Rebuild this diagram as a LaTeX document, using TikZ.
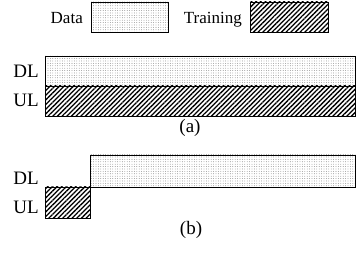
\documentclass[tikz,border=0pt]{standalone}
\usepackage{fontspec}
\setmainfont{Liberation Serif}
\usetikzlibrary{patterns.meta}
\definecolor{dotgray}{HTML}{6E6E6E}
\tikzset{
  databar/.style={draw=black,line width=0.9pt,
    pattern={Dots[radius=0.4pt,distance=2.4pt]},pattern color=dotgray},
  trainbar/.style={draw=black,line width=0.9pt,
    pattern={Lines[angle=45,distance=3.3pt,line width=1.3pt]}},
  legtxt/.style={font=\fontsize{17}{19}\selectfont,inner sep=0pt},
  rowtxt/.style={font=\fontsize{19}{21}\selectfont,inner sep=0pt,anchor=east},
  captxt/.style={font=\fontsize{19}{21}\selectfont,inner sep=0pt}
}

\begin{document}
\begin{tikzpicture}[x=1pt,y=-1pt]
    \useasboundingbox (0,0) rectangle (357,253);
    % legend
    \node[legtxt,anchor=base east] (datalbl) at (83,24) {Data};
    \draw[databar] (91,2) rectangle (168,32);
    \node[legtxt,anchor=base east] (trainlbl) at (242,24) {Training};
    \draw[trainbar] (250,2) rectangle (328,32);
    % (a) full duplex
    \draw[databar] (45,56) rectangle (355,86);
    \draw[trainbar] (45,86) rectangle (355,116);
    \node[rowtxt] (dla) at (39,71) {DL};
    \node[rowtxt] (ula) at (39,100) {UL};
    \node[captxt] (capa) at (190,128) {(a)};
    % (b) training then data
    \draw[databar] (90,155) rectangle (355,187);
    \draw[trainbar] (45,187) rectangle (90,218);
    \node[rowtxt] (dlb) at (39,178) {DL};
    \node[rowtxt] (ulb) at (39,207) {UL};
    \node[captxt] (capb) at (191,230) {(b)};
  \end{tikzpicture}
\end{document}
